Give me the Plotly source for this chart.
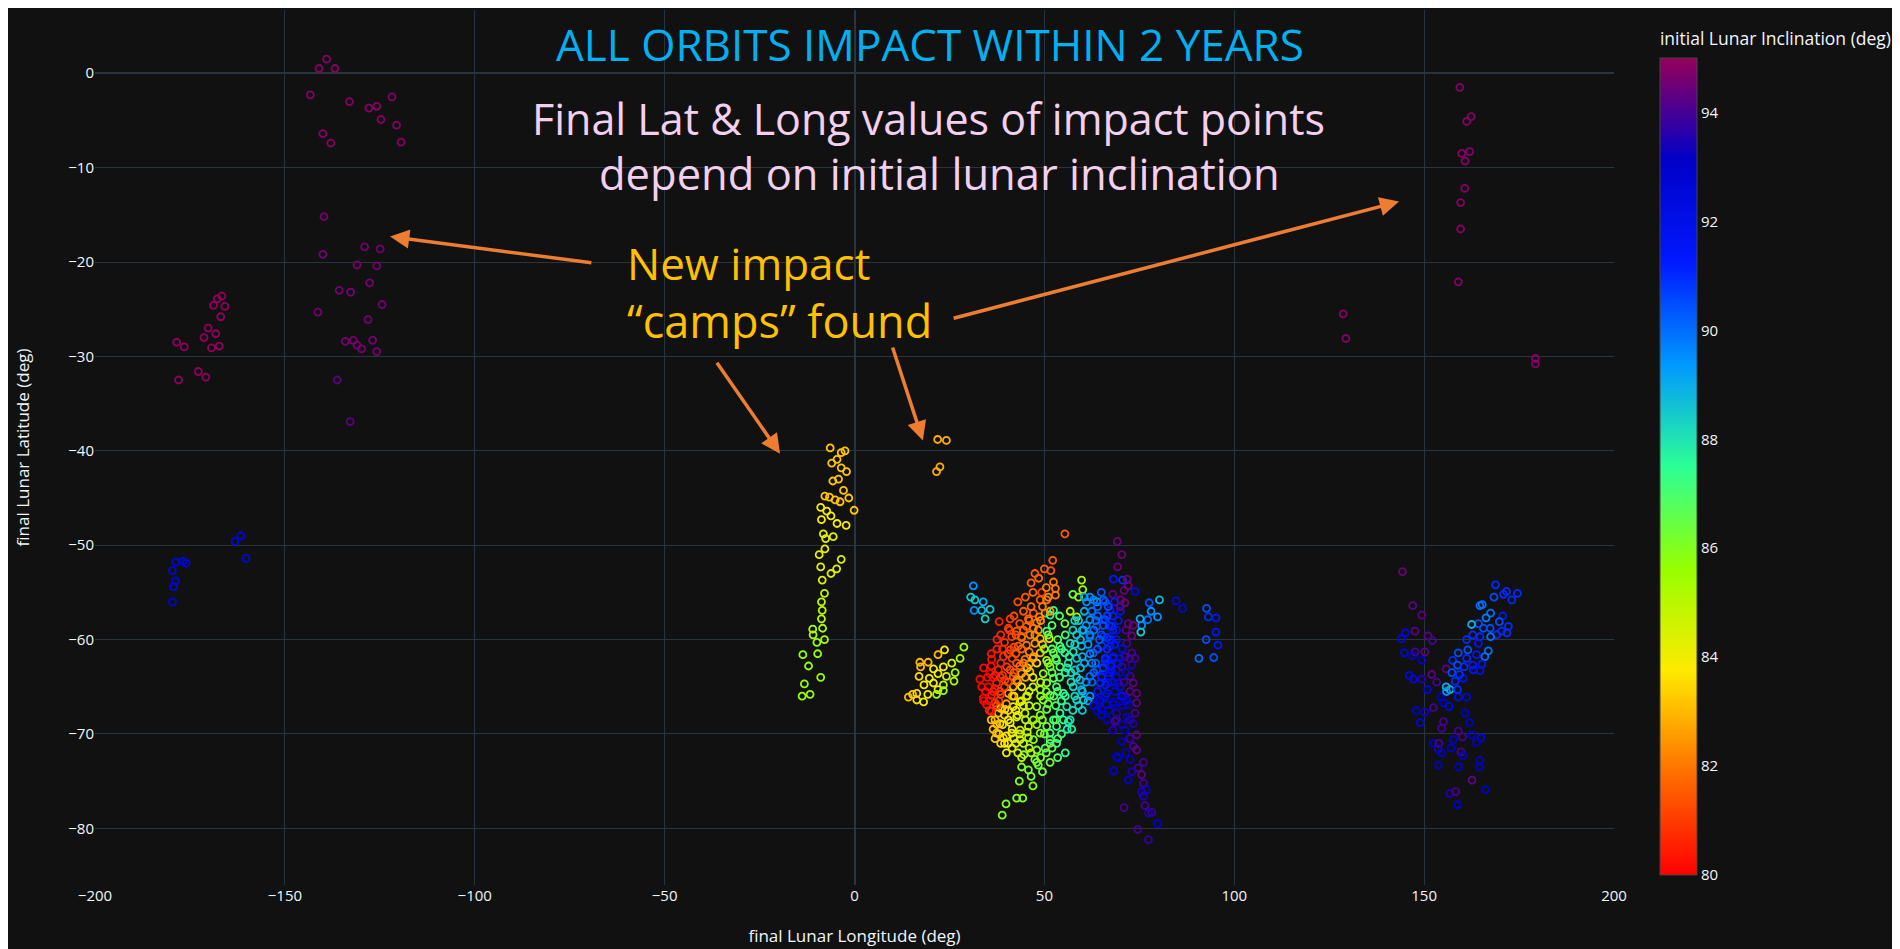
import plotly.graph_objects as go

# ---------------- data (final lon, final lat, initial inclination) ----------------
# north-west camp (lon ~ -140..-120)
nw_lon = [-139.0,-141.0,-136.8,-143.3,-133.0,-127.9,-125.8,-121.8,-124.7,-120.6,-119.4,-140.0,-137.9,
          -139.7,-140.0,-129.0,-124.9,-131.0,-125.8,-127.7,-135.7,-132.7,-124.4,-141.3,-128.1,-134.1,
          -132.0,-131.0,-129.8,-126.9,-125.8,-136.2,-132.8]
nw_lat = [1.5,0.5,0.5,-2.3,-3.0,-3.7,-3.5,-2.5,-4.9,-5.5,-7.3,-6.4,-7.4,
          -15.2,-19.2,-18.4,-18.6,-20.3,-20.4,-22.2,-23.0,-23.2,-24.5,-25.3,-26.1,-28.4,
          -28.3,-28.8,-29.2,-28.3,-29.5,-32.5,-36.9]
nw_inc = [94.8]*13 + [94.6]*18 + [94.3, 94.3]

# far west camp (lon ~ -170)
fw_lon = [-166.6,-167.8,-168.8,-165.8,-166.9,-170.2,-168.2,-171.3,-178.5,-176.5,-169.3,-167.3,-172.8,-170.8,-178.0]
fw_lat = [-23.6,-23.9,-24.6,-24.7,-25.8,-27.0,-27.6,-28.0,-28.5,-29.0,-29.1,-28.9,-31.6,-32.2,-32.5]
fw_inc = [94.95]*15

# far west blue group
wb_lon = [-161.6,-163.1,-160.2,-178.7,-176.8,-176.0,-179.6,-178.8,-179.3,-179.6]
wb_lat = [-49.0,-49.6,-51.4,-51.8,-51.7,-51.9,-52.7,-53.8,-54.4,-56.0]
wb_inc = [92.6]*10

# north-east camp (lon ~ 160)
ne_lon = [159.4,162.4,161.2,162.0,159.9,160.8,160.7,159.6,159.6,159.0,128.7,129.4,179.3,179.3]
ne_lat = [-1.5,-4.6,-5.1,-8.3,-8.5,-9.3,-12.2,-13.7,-16.5,-22.1,-25.5,-28.1,-30.2,-30.8]
ne_inc = [94.8]*14

# stem near lon -5
st_lon = [-6.4,-2.5,-3.5,-4.6,-6.0,-3.5,-2.1,-4.2,-5.7,-2.9,-1.5,-7.8,-6.6,-5.1,-3.8,-0.1,
          -8.9,-7.3,-6.2,-8.7,-4.6,-2.2,-8.2,-7.6,-5.6,-7.8,-9.3,-3.5,-8.9,-4.7,-6.2,-8.5,
          -7.9,-8.7,-8.5,-8.7,-11.0,-8.4,-10.9,-7.9,-9.9,-13.6,-9.7,-12.1,-8.9,-13.2,-11.7,-13.8]
st_lat = [-39.7,-40.0,-40.2,-40.9,-41.3,-41.8,-42.2,-43.0,-43.2,-44.2,-45.0,-44.8,-44.9,-45.2,-45.4,-46.3,
          -46.0,-46.4,-46.9,-47.3,-47.7,-47.9,-48.8,-49.3,-49.1,-50.4,-51.0,-51.5,-52.3,-52.5,-53.0,-53.7,
          -55.1,-56.0,-56.9,-57.8,-58.9,-58.8,-59.5,-60.0,-60.3,-61.6,-61.5,-62.8,-64.0,-64.7,-65.8,-66.0]
st_inc = [83.2]*16 + [83.9]*6 + [84.3]*10 + [85.0]*4 + [85.3]*4 + [85.7]*8

# small orange groups
og_lon = [21.9,24.2,21.6,22.5,55.4]
og_lat = [-38.8,-38.9,-42.2,-41.7,-48.8]
og_inc = [82.8,82.8,82.8,82.8,81.5]

# yellow blob near lon 20
yb_lon = [28.8,27.8,23.7,22.0,19.4,17.2,17.4,23.4,25.6,20.8,26.5,22.0,17.0,19.7,24.2,26.2,18.3,20.8,23.4,22.0,
          16.4,19.3,14.2,16.4,18.2,21.6,23.4,15.3]
yb_lat = [-60.8,-62.0,-61.1,-61.6,-62.4,-62.4,-62.9,-62.9,-62.5,-63.1,-63.5,-63.6,-63.9,-64.1,-63.9,-64.4,-64.8,-64.6,
          -64.8,-65.3,-65.7,-65.8,-66.1,-66.4,-66.6,-65.8,-65.4,-65.8]
yb_inc = [85.5,85.5,83.8,83.0,83.0,83.0,83.0,84.0,84.5,84.0,85.5,84.0,83.5,84.0,84.5,85.3,83.8,84.0,85.0,84.0,
          83.5,84.0,83.0,83.5,84.0,85.5,85.5,83.3]

# cyan group near lon 32
cy_lon = [31.3,30.6,31.7,33.9,31.5,33.5,34.4,35.7]
cy_lat = [-54.3,-55.5,-55.8,-56.0,-56.9,-56.9,-57.8,-56.8]
cy_inc = [89.5,88.5,88.5,89.0,89.5,88.8,88.3,88.5]

# main cluster (lon 35..80)
mc_lon = [52.2,51.7,52.4,52.9,52.9,49.3,48.9,50.6,47.1,48.7,50.2,38.1,40.8,42.7,45.3,47.1,48.4,41.4,44.0,46.2,48.9,
          36.1,39.2,41.0,43.1,45.3,47.5,35.7,37.9,40.1,42.7,44.9,47.1,48.9,35.2,37.4,39.6,41.8,44.0,46.2,33.9,36.1,38.3,34.8,37.0,
          37.9,39.6,41.8,43.6,45.3,38.3,40.5,42.7,44.9,37.4,39.2,41.4,43.6,45.8,41.8,40.5,42.7,43.6,45.8,
          47.1,48.9,50.6,48.0,49.7,51.5,48.9,50.6,52.4,49.7,51.5,53.2,50.6,52.4,54.1,55.4,54.1,53.2,55.0,55.9,54.1,52.4,50.6,48.9,
          47.1,51.5,53.2,51.5,53.2,50.2,48.0,44.6,47.5,48.4,44.0,45.8,43.4,42.7,44.3,39.9,38.9,57.2,56.3,
          59.8,60.1,57.5,59.0,56.8,58.5,55.4,52.4,51.5,51.3,50.6,
          56.8,58.5,60.3,62.0,63.8,61.1,57.6,59.8,56.3,58.1,59.4,57.6,59.8,60.3,58.5,56.8,
          62.0,63.8,65.5,67.3,68.2,62.9,65.1,67.3,69.0,63.8,66.0,68.2,62.0,64.7,66.9,69.0,63.8,63.8,66.4,68.2,68.0,69.0,68.2,69.0,
          69.2,70.4,69.3,70.6,71.8,72.1,73.9,68.0,70.1,71.2,77.6,80.3,79.8,78.1,77.2,75.2,75.6,75.4,84.7,86.4,92.7,93.2,95.2,95.2,
          92.6,95.7,90.7,94.6,72.1,73.4,73.0,71.7,73.0,73.9,71.2,70.4,73.0,72.6,73.4,69.5,74.3,71.2,69.9,74.3,68.2,72.1,73.9,69.0,
          71.7,68.6,73.4,68.0,71.2,74.3,70.4,73.4,74.3,69.5,72.6,76.1,68.2,72.1,74.7,75.6,76.1,76.9,75.6,76.1,76.5,71.0,77.4,78.3,
          79.8,74.6,77.4,
          65.5,66.8,66.0,67.7,65.5,67.3,66.0,67.7,65.1,66.8,65.1,66.4,70.4,71.7]
mc_lat = [-51.6,-52.7,-53.9,-54.6,-55.3,-55.0,-55.8,-55.8,-57.2,-57.6,-57.2,-58.1,-59.0,-59.1,-58.6,-58.8,-59.0,-59.7,-59.7,-59.5,-59.9,
          -62.1,-61.8,-61.1,-60.7,-60.6,-60.4,-63.6,-63.2,-62.9,-62.5,-62.1,-61.8,-61.4,-65.0,-64.6,-64.3,-63.9,-63.6,-63.4,-66.2,-65.9,-65.5,-66.9,-66.7,
          -67.8,-67.4,-67.1,-66.6,-66.0,-68.9,-68.5,-68.2,-67.8,-69.9,-70.4,-69.9,-69.6,-69.2,-65.0,-65.7,-64.3,-70.6,-70.4,
          -68.5,-68.0,-67.4,-67.1,-66.4,-65.9,-65.3,-64.6,-64.1,-63.6,-62.9,-62.2,-62.2,-61.4,-60.7,-61.4,-62.9,-65.0,-65.7,-67.1,-67.8,-68.5,-69.2,-69.9,
          -70.6,-69.9,-69.2,-70.6,-71.0,-71.5,-71.7,-72.2,-72.7,-73.3,-73.5,-73.8,-75.0,-76.8,-76.8,-77.4,-78.6,-69.5,-68.7,
          -53.7,-54.7,-55.2,-55.5,-57.0,-57.6,-58.3,-56.9,-57.4,-59.9,-59.1,
          -60.4,-59.5,-59.0,-57.9,-56.0,-56.0,-61.3,-60.7,-62.5,-63.2,-64.3,-65.0,-65.3,-66.4,-66.4,-68.5,
          -59.7,-58.6,-57.9,-56.9,-53.6,-61.4,-60.7,-60.0,-59.0,-63.2,-62.5,-61.8,-63.9,-64.6,-63.9,-63.2,-66.3,-67.5,-65.7,-66.6,-69.6,-72.4,-73.9,-68.5,
          -49.6,-51.0,-52.3,-53.7,-53.6,-54.3,-54.9,-55.2,-55.8,-56.1,-56.1,-55.8,-57.6,-57.0,-57.9,-57.8,-58.5,-59.2,-55.9,-56.7,-56.7,-57.6,-57.7,-59.2,
          -60.0,-60.6,-62.0,-61.9,-58.3,-58.5,-59.6,-60.4,-61.4,-62.0,-61.8,-62.9,-62.7,-63.9,-64.6,-64.6,-65.7,-66.0,-66.6,-66.7,-66.9,-66.9,-67.8,-67.8,
          -68.2,-68.7,-68.9,-69.6,-69.6,-70.1,-70.8,-71.3,-71.7,-72.5,-72.7,-73.0,-73.9,-74.9,-73.6,-74.3,-75.2,-75.9,-76.1,-76.6,-77.6,-77.8,-78.4,-78.3,
          -79.5,-80.1,-81.2,
          -55.8,-56.5,-57.9,-58.6,-59.7,-60.7,-62.2,-63.2,-63.9,-64.6,-67.4,-66.9,-66.0,-66.4]
mc_inc = [81.5,81.5,82.0,82.0,82.0,81.0,81.5,82.0,81.5,82.0,82.5,80.5,81.0,81.5,81.5,82.0,82.5,81.0,81.5,82.0,83.0,
          80.2,80.8,81.0,81.5,82.0,82.5,80.0,80.5,81.0,81.5,82.0,82.5,83.0,80.0,80.5,81.0,81.5,82.5,83.0,80.0,80.5,81.0,80.2,81.0,
          83.0,83.5,84.0,84.0,84.5,83.5,84.0,84.5,85.0,83.0,83.5,84.0,84.5,85.0,83.0,83.0,82.5,84.5,85.3,
          85.5,86.0,86.5,85.5,86.0,86.5,85.5,86.0,86.5,85.5,86.0,87.0,85.5,86.5,87.0,87.5,87.0,87.0,87.5,88.0,87.5,87.0,86.5,86.0,
          85.8,87.0,87.5,87.0,87.3,86.8,86.3,86.0,86.3,86.5,86.0,86.3,86.0,86.0,86.0,86.0,86.0,87.8,88.0,
          85.3,85.5,86.5,85.8,85.3,86.0,86.5,87.5,87.5,84.5,87.5,
          88.0,88.5,89.0,89.5,89.5,89.5,88.0,88.8,88.0,88.5,88.8,88.3,89.0,88.5,88.2,88.0,
          90.0,90.5,91.0,91.5,91.5,90.3,91.0,91.5,92.0,90.5,91.3,92.0,90.0,91.0,91.5,92.5,92.5,93.0,92.0,93.0,93.0,93.0,93.3,94.0,
          94.5,94.5,94.5,91.0,94.5,94.5,92.5,94.3,94.5,94.5,90.5,88.8,89.5,89.5,90.0,89.0,89.5,88.5,92.5,92.5,90.5,91.0,91.5,91.5,
          90.5,91.5,90.0,90.5,94.3,94.5,94.5,94.0,94.0,94.0,94.0,94.0,93.5,94.0,94.3,93.5,94.3,93.0,93.0,94.3,93.0,93.0,94.0,93.5,
          93.0,94.0,93.5,93.5,93.0,94.3,93.0,94.0,94.3,93.0,93.3,94.0,93.2,93.0,94.0,94.3,94.0,93.0,93.5,93.5,94.0,94.0,93.5,93.8,
          93.0,94.0,93.8,
          90.0,90.5,90.5,91.0,91.0,91.5,91.5,92.0,91.5,92.0,92.5,92.5,92.0,92.5]

# extra points filling the dense core of the main cluster
core_lon = [42.0,44.5,46.5,43.5,45.8,48.0,39.5,42.0,44.0,46.0,37.5,38.5,41.5,43.5,46.0,36.5,39.0,41.0,43.0,45.0,34.5,37.0,
            39.5,41.5,35.5,38.0,40.0,36.0,33.5,47.5,49.5,44.0,40.5,46.5,48.5,50.5,51.5,
            37.0,39.0,41.0,43.0,45.0,38.0,40.0,42.0,44.5,36.5,39.5,41.5,43.0,46.0,42.0,44.0,46.0,40.5,38.5,44.0,46.0,47.0,45.5,48.0,49.0,
            49.0,51.0,53.0,52.0,54.0,55.5,50.0,53.5,55.5,56.5,57.0,55.5,53.0,50.0,52.0,54.5,56.0,55.5,49.0,51.5,46.5,49.5,52.0,54.0,51.0,
            57.5,59.0,60.5,58.5,60.0,61.5,57.0,59.5,61.0,58.0,60.0,57.5,61.5,62.5,59.5,
            62.5,64.0,66.0,68.0,63.0,65.0,67.0,69.5,64.0,66.5,68.5,70.5,63.5,65.5,67.5,69.5,62.5,64.0,66.0,68.0,70.0,63.0,65.0,67.0,70.0,
            65.0,63.0,71.5,66.5,68.0]
core_lat = [-57.5,-57.0,-56.5,-58.3,-57.8,-58.2,-60.3,-60.8,-61.0,-61.3,-61.0,-62.5,-62.0,-62.8,-62.6,-64.0,-63.8,-63.2,-64.5,-64.0,-65.5,-65.2,
            -65.0,-66.0,-66.5,-66.5,-66.8,-67.6,-65.0,-59.5,-60.5,-59.8,-58.8,-54.0,-53.5,-54.5,-57.0,
            -68.5,-69.0,-68.8,-68.0,-68.5,-70.0,-70.2,-70.5,-71.0,-69.5,-71.0,-71.5,-72.0,-71.5,-66.0,-66.5,-67.0,-67.5,-67.3,-65.0,-65.5,-64.0,-63.0,-62.5,-64.5,
            -66.0,-66.8,-67.0,-63.5,-64.0,-63.5,-61.0,-60.0,-59.5,-61.8,-64.5,-66.0,-68.5,-70.0,-71.5,-70.0,-69.5,-72.0,-72.5,-73.0,-74.5,-74.0,-58.5,-57.5,-59.5,
            -59.0,-58.0,-57.0,-62.0,-61.8,-60.5,-63.5,-63.0,-64.5,-66.0,-67.5,-67.5,-66.5,-62.5,-60.0,
            -57.0,-57.5,-56.0,-57.5,-59.0,-59.5,-58.5,-58.0,-61.0,-61.0,-60.5,-61.0,-62.5,-63.0,-62.8,-62.5,-64.5,-65.5,-64.8,-64.5,-65.0,-67.0,-68.0,-67.5,-57.0,
            -55.0,-55.8,-63.5,-59.8,-59.0]
core_inc = [81.2,81.5,81.8,81.3,81.6,82.0,80.8,81.2,81.6,82.2,80.4,80.6,81.0,81.7,82.4,80.2,80.8,81.2,82.3,82.7,80.0,80.4,
            81.0,82.5,80.3,80.8,82.6,80.6,80.1,82.3,83.0,81.8,81.0,81.6,81.8,82.0,82.4,
            83.2,83.6,84.0,84.4,84.8,83.4,83.8,84.2,84.8,83.0,83.8,84.3,84.7,85.0,83.5,84.2,84.8,83.6,83.2,83.6,84.5,84.0,83.4,83.6,84.8,
            85.6,86.3,87.0,86.5,87.2,87.6,85.8,86.8,87.2,87.8,88.0,87.6,86.8,86.2,86.6,87.3,87.8,87.4,86.0,86.4,86.1,86.3,86.8,87.0,86.0,
            88.3,88.6,89.0,88.5,88.9,89.4,88.2,88.7,89.2,88.3,88.6,88.2,89.0,89.6,88.8,
            89.8,90.2,90.6,91.2,90.0,90.6,91.0,91.6,90.4,91.0,91.6,92.2,90.2,90.8,91.4,92.0,90.2,91.6,91.4,92.2,92.4,92.6,92.8,92.8,91.8,
            90.4,89.7,92.6,90.9,91.4]

# second pass of dense-core points
core2_lon = [38.5,41.0,43.0,45.0,47.0,49.5,51.0,50.0,47.5,46.0,49.0,44.5,42.5,39.0,40.5,42.5,44.5,47.0,36.0,37.0,38.5,40.5,42.0,
             35.0,36.5,38.5,34.0,35.5,37.5,33.0,34.0,37.5,36.0,
             37.5,39.5,41.5,43.5,45.5,38.5,40.5,42.5,44.0,46.5,36.0,37.0,40.0,42.5,44.5,45.5,47.0,
             48.0,49.5,50.5,52.5,53.5,54.5,51.0,53.0,54.5,52.0,56.0,55.0,53.5,51.5,50.5,53.5,48.0,47.0,
             58.0,60.0,61.0,62.0,58.0,60.5,62.0,58.5,60.0,62.0,59.0,
             63.5,65.5,67.5,69.0,64.5,66.0,68.0,70.0,63.0,65.0,67.0,69.0,66.0,68.5,64.5,66.5,64.0,66.5,68.5,62.0,60.5,
             71.5,72.5,71.0,72.5,70.5,72.5,70.5,72.5,71.5,73.0,70.0,71.0]
core2_lat = [-59.5,-57.8,-56.0,-55.5,-55.0,-56.5,-55.5,-52.5,-53.0,-58.0,-58.0,-59.0,-59.5,-61.0,-61.5,-61.5,-62.5,-62.0,-62.8,-63.8,-64.0,-64.5,-63.5,
             -64.0,-65.5,-65.8,-66.5,-67.5,-67.0,-64.2,-63.0,-60.0,-61.5,
             -69.0,-68.0,-69.5,-70.0,-69.8,-71.0,-71.0,-71.0,-72.5,-72.0,-68.5,-70.5,-72.0,-67.5,-67.0,-66.0,-65.0,
             -69.0,-68.5,-65.5,-66.0,-65.5,-66.5,-62.5,-62.0,-61.0,-61.0,-63.0,-68.5,-70.5,-71.0,-72.0,-72.5,-73.0,-75.5,
             -58.0,-59.0,-58.5,-59.5,-60.5,-62.5,-61.5,-64.0,-65.5,-66.0,-67.0,
             -58.0,-58.5,-60.0,-60.0,-60.0,-62.0,-62.0,-62.0,-63.5,-64.0,-63.5,-64.0,-66.0,-65.5,-66.5,-68.5,-56.5,-57.5,-56.0,-55.5,-55.5,
             -59.0,-62.0,-64.5,-65.5,-67.0,-68.5,-69.0,-70.5,-72.0,-74.0,-56.5,-54.8]
core2_inc = [80.6,81.0,81.3,81.5,81.7,82.0,82.2,81.6,81.5,81.8,82.4,81.6,81.3,80.6,81.0,81.4,82.0,82.8,80.2,80.4,80.7,81.2,81.6,
             80.1,80.4,81.0,80.0,80.4,81.2,80.0,80.2,80.5,80.3,
             83.0,83.4,84.0,84.5,84.9,83.5,83.9,84.4,84.8,85.2,83.0,83.2,84.0,83.8,84.4,84.6,84.8,
             85.6,85.9,86.1,86.7,87.1,87.4,86.0,86.8,87.3,86.5,87.8,87.5,87.0,86.6,86.3,86.9,86.1,86.0,
             88.4,89.0,89.4,89.7,88.4,89.1,89.6,88.4,88.8,89.5,88.4,
             90.0,90.5,91.2,91.7,90.3,91.0,91.6,92.3,90.2,91.2,91.6,92.3,92.2,92.6,92.5,93.0,90.2,90.7,91.3,89.6,89.3,
             94.2,94.0,93.8,94.2,93.2,93.6,93.3,93.8,93.2,93.5,94.4,94.4]

# south-east camp (lon 145..175)
se_lon = [144.3,147.0,149.4,147.6,151.0,152.2,150.2,147.6,145.1,144.0,144.8,147.0,149.5,146.1,147.2,149.4,152.0,153.3,150.9,155.8,
          147.9,150.2,152.4,149.0,155.1,154.6,152.4,153.9,153.7,154.6,153.8,159.0,160.1,157.7,162.5,165.0,163.8,159.7,160.2,157.1,
          164.7,164.5,159.1,162.6,166.2,156.8,158.3,158.8,160.8,162.0,154.5,155.1,156.6,159.0,161.2,160.3,
          168.8,168.4,170.9,171.7,173.1,174.6,164.7,165.3,167.5,170.7,166.3,169.8,164.3,162.5,172.2,165.6,167.4,170.4,171.8,169.1,
          167.5,164.7,161.2,162.8,164.3,161.5,166.9,163.8,166.0,159.0,157.5,161.2,158.8,160.5,162.8,165.2,163.0,164.7,157.3,159.3,
          158.2,155.8,156.8,158.8,155.9]
se_lat = [-52.8,-56.4,-57.4,-59.1,-59.6,-60.1,-61.3,-61.3,-59.3,-59.9,-61.4,-61.7,-62.2,-63.8,-64.2,-64.2,-63.7,-64.5,-65.3,-63.1,
          -67.5,-67.7,-67.2,-68.8,-68.7,-69.4,-71.0,-71.0,-71.6,-72.0,-73.3,-69.7,-70.3,-70.6,-70.1,-70.4,-70.9,-71.9,-72.3,-71.5,
          -72.8,-73.5,-73.5,-74.9,-75.9,-76.3,-76.1,-77.5,-67.8,-68.8,-66.1,-66.7,-67.1,-66.1,-66.1,-64.1,
          -54.2,-55.5,-55.2,-54.9,-55.8,-55.1,-56.4,-56.3,-57.2,-57.5,-57.7,-58.1,-58.3,-58.4,-58.6,-58.8,-58.8,-59.1,-59.3,-59.5,
          -59.7,-59.7,-60.0,-59.5,-60.4,-61.1,-61.2,-61.6,-61.8,-61.4,-62.2,-62.0,-62.7,-62.9,-62.7,-62.6,-63.2,-63.3,-63.5,-63.7,
          -64.4,-65.0,-65.3,-65.3,-65.5]
se_inc = [94.5,94.3,94.3,94.3,94.3,94.0,94.3,94.0,92.5,92.5,92.5,93.0,93.0,92.5,92.5,93.5,94.3,94.0,92.5,94.3,
          93.0,93.3,94.0,92.5,94.0,94.0,93.0,94.0,93.5,93.0,93.0,94.0,94.0,93.0,93.0,92.5,93.0,94.0,93.0,93.0,
          93.0,93.0,93.0,94.3,93.0,93.5,94.0,93.0,93.0,93.0,93.0,93.0,92.5,92.0,92.5,92.0,
          91.0,90.5,91.0,91.0,91.0,91.0,90.0,90.0,90.0,91.5,89.8,90.5,90.5,89.0,91.0,90.5,90.5,91.0,91.0,91.0,
          90.0,91.0,91.0,91.0,91.5,90.5,90.0,91.5,90.0,90.5,91.0,91.0,90.5,91.0,91.5,91.5,91.5,92.0,90.5,91.0,
          91.0,89.0,89.0,91.0,89.5]

groups = [
    (fw_lon, fw_lat, fw_inc), (nw_lon, nw_lat, nw_inc), (wb_lon, wb_lat, wb_inc), (ne_lon, ne_lat, ne_inc),
    (st_lon, st_lat, st_inc), (og_lon, og_lat, og_inc), (yb_lon, yb_lat, yb_inc), (cy_lon, cy_lat, cy_inc),
    (se_lon, se_lat, se_inc), (mc_lon, mc_lat, mc_inc), (core_lon, core_lat, core_inc),
    (core2_lon, core2_lat, core2_inc),
]
lon, lat, inc = [], [], []
for a, b, c in groups:
    assert len(a) == len(b) == len(c), (len(a), len(b), len(c))
    lon += a; lat += b; inc += c

colorbar_ticks = [80, 82, 84, 86, 88, 90, 92, 94]

fig = go.Figure(go.Scatter(
    x=lon, y=lat, mode="markers",
    marker=dict(symbol="circle-open", size=7, color=inc, colorscale="Rainbow_r",
                cmin=80, cmax=95, line=dict(width=1.8),
                colorbar=dict(title=dict(text="initial Lunar Inclination (deg)", side="top",
                                         font=dict(size=17.5)),
                              tickvals=colorbar_ticks, thickness=37, x=1.024,
                              len=0.99, y=0, yanchor="bottom",
                              tickfont=dict(size=15))),
    showlegend=False,
))

fig.update_layout(
    template="plotly_dark",
    width=1900, height=949,
    margin=dict(l=87, r=294, t=2, b=72, autoexpand=False),
    font=dict(family="Open Sans", size=15),
    xaxis=dict(range=[-200, 200], dtick=50, automargin=True,
               title=dict(text="final Lunar Longitude (deg)", font=dict(size=17), standoff=26),
               tickfont=dict(size=15)),
    yaxis=dict(range=[-86.0, 6.7], dtick=10, automargin=True,
               title=dict(text="final Lunar Latitude (deg)", font=dict(size=17), standoff=34),
               tickfont=dict(size=15)),
)

ann_font = "Open Sans"
annots = [
    dict(x=19.9, y=3.1, text="ALL ORBITS IMPACT WITHIN 2 YEARS", showarrow=False,
         font=dict(family=ann_font, size=44, color="#00B0F0"), xanchor="center", yanchor="middle"),
    dict(x=19.6, y=-4.8, text="Final Lat &amp; Long values of impact points",
         showarrow=False, font=dict(family=ann_font, size=43, color="#F2D0EE"), xanchor="center", yanchor="middle"),
    dict(x=22.3, y=-10.6, text="depend on initial lunar inclination",
         showarrow=False, font=dict(family=ann_font, size=43.5, color="#F2D0EE"), xanchor="center", yanchor="middle"),
    dict(x=-60.4, y=-20.1, text="New impact", showarrow=False, align="left",
         font=dict(family=ann_font, size=44, color="#FFC000"), xanchor="left", yanchor="middle"),
    dict(x=-60.4, y=-26.2, text="“camps” found", showarrow=False, align="left",
         font=dict(family=ann_font, size=45, color="#FFC000"), xanchor="left", yanchor="middle"),
]
arrows = [(-68.9, -20.1, -122.3, -17.3), (25.7, -26.0, 143.4, -13.6),
          (-36.5, -30.5, -19.6, -40.3), (9.9, -28.9, 18.0, -38.9)]
for ax_, ay_, x_, y_ in arrows:
    annots.append(dict(x=x_, y=y_, ax=ax_, ay=ay_, xref="x", yref="y", axref="x", ayref="y",
                       text="", showarrow=True, arrowhead=2, arrowsize=1.1, arrowwidth=3.5,
                       arrowcolor="#ED7D31", standoff=0))
fig.update_layout(annotations=annots)

fig.write_html("out.html")
